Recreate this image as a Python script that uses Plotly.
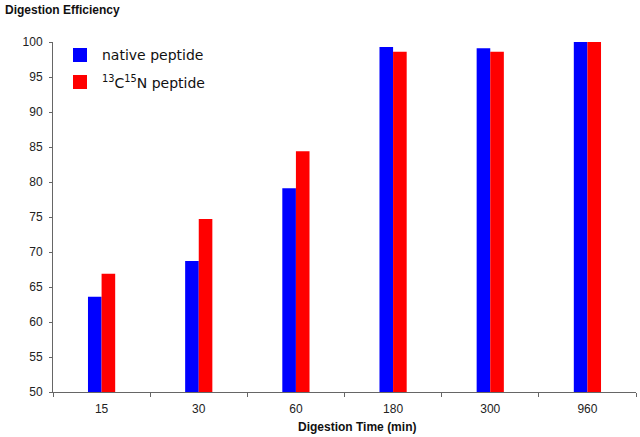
import plotly.graph_objects as go

categories = ["15", "30", "60", "180", "300", "960"]
native = [63.6, 68.7, 79.1, 99.3, 99.1, 100.0]
labeled = [66.9, 74.7, 84.4, 98.6, 98.6, 100.0]
series_names = ["native peptide", "<sup>13</sup>C<sup>15</sup>N peptide"]
series_colors = ["#0000FF", "#FF0000"]

fig = go.Figure()
fig.add_trace(go.Bar(x=categories, y=native, name=series_names[0],
                     marker=dict(color=series_colors[0], line=dict(width=0))))
fig.add_trace(go.Bar(x=categories, y=labeled, name=series_names[1],
                     marker=dict(color=series_colors[1], line=dict(width=0))))

W, H = 640, 437
AX_L, AX_R, AX_T, AX_B = 53, 636, 42, 392  # plot area in page pixels
L, R, T, B = AX_L, W - AX_R, AX_T, H - AX_B
pw, ph = AX_R - AX_L, AX_B - AX_T
px = lambda x: (x - AX_L) / pw
py = lambda y: (AX_B - y) / ph

shapes = []
annotations = [
    dict(text="<b>Digestion Efficiency</b>", x=px(3), y=py(10), xref="paper", yref="paper",
         xanchor="left", yanchor="middle", showarrow=False, font=dict(size=12, color="#111")),
    dict(text="<b>Digestion Time (min)</b>", x=px(296), y=py(427), xref="paper", yref="paper",
         xanchor="left", yanchor="middle", showarrow=False, font=dict(size=12, color="#111")),
]
legend_rows = [(48, 62), (75, 89)]
for (y0, y1), name, col in zip(legend_rows, series_names, series_colors):
    shapes.append(dict(type="rect", xref="paper", yref="paper",
                       x0=px(73), x1=px(87), y0=py(y1), y1=py(y0),
                       fillcolor=col, line=dict(width=0)))
    annotations.append(dict(text=name, x=px(100), y=py((y0 + y1) / 2), xref="paper", yref="paper",
                            xanchor="left", yanchor="middle", showarrow=False,
                            font=dict(family="DejaVu Sans, Verdana, sans-serif", size=14, color="#111")))

fig.update_layout(
    width=W, height=H,
    margin=dict(l=L, r=R, t=T, b=B, pad=0),
    paper_bgcolor="white", plot_bgcolor="white",
    barmode="group", bargap=0.72, bargroupgap=0,
    font=dict(family="Liberation Sans, Arial, sans-serif", size=12, color="#222"),
    showlegend=False,
    xaxis=dict(type="category", showline=True, linecolor="#666", linewidth=1,
               ticks="outside", ticklen=4, tickcolor="#666", tickson="boundaries",
               showgrid=False, tickfont=dict(size=12), ticklabelstandoff=6),
    yaxis=dict(range=[50, 100], dtick=5, showline=True, linecolor="#666", linewidth=1,
               ticks="outside", ticklen=3, tickcolor="#666", showgrid=False,
               zeroline=False, tickfont=dict(size=12), ticklabelstandoff=4),
    shapes=shapes,
    annotations=annotations,
)

# remove the browser's default 8px body margin so the figure sits at the page origin
fig.write_html("out.html", config={"displayModeBar": False},
               post_script="document.body.style.margin='0px';")
